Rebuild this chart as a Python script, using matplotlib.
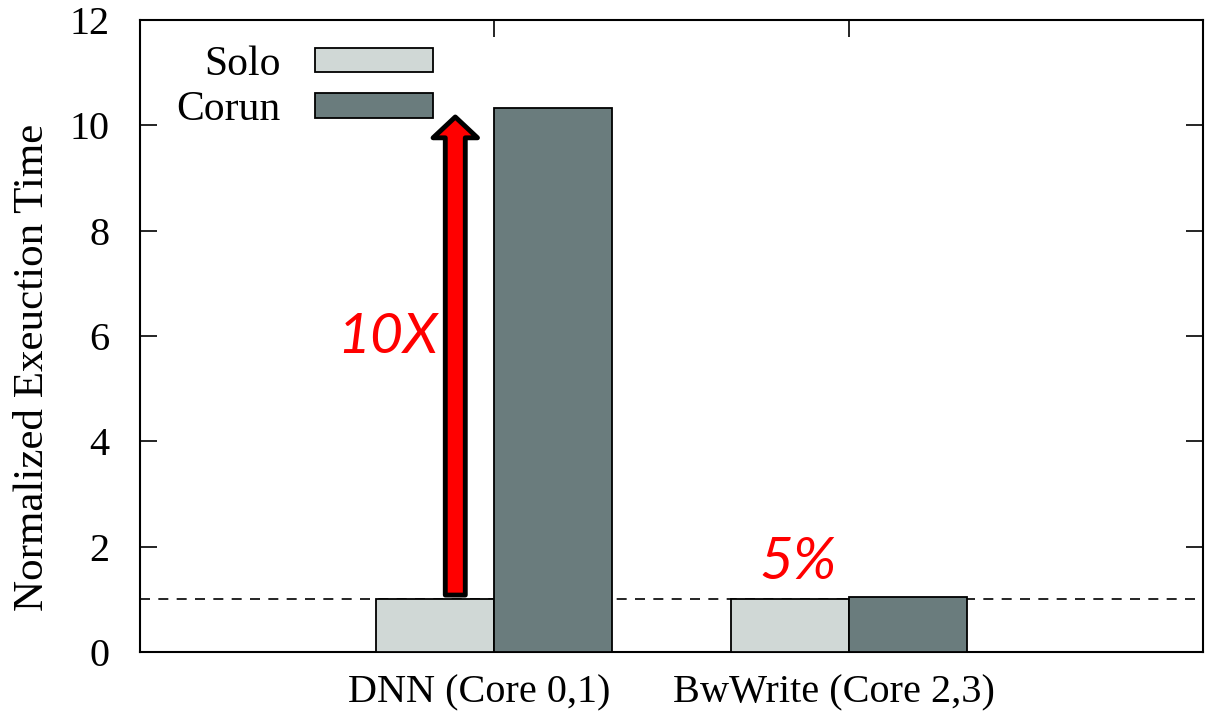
import numpy as np
import matplotlib
matplotlib.use('Agg')
from matplotlib import pyplot as plt
from matplotlib import transforms

categories = ['DNN (Core 0,1)', 'BwWrite (Core 2,3)']
solo = [1.0, 1.0]
corun = [10.33, 1.05]
yticks = [0, 2, 4, 6, 8, 10, 12]

plt.rcParams['font.family'] = ['Liberation Serif', 'DejaVu Serif']

fig = plt.figure(figsize=(12.06, 7.18), dpi=100)
ax = fig.add_axes([0.116, 0.092, 0.8815, 0.880])

x = np.arange(len(categories))
w = 1/3
ax.bar(x - w/2, solo, w, color='#d0d8d6', edgecolor='black', linewidth=1.3, label='Solo', zorder=3)
ax.bar(x + w/2, corun, w, color='#6a7c7d', edgecolor='black', linewidth=1.3, label='Corun', zorder=3)

ax.axhline(1.0, ls=(0, (6, 5)), color='black', lw=1.2, zorder=2)

ax.set_xlim(-1, 2)
ax.set_ylim(0, 12)
ax.set_yticks(yticks)
ax.set_xticks(x)
ax.set_xticklabels(categories)
ax.tick_params(axis='both', direction='in', length=12, width=1.2, top=True, right=True, labelsize=29)
ax.tick_params(axis='x', pad=16)
ax.tick_params(axis='y', pad=22)
# shift category labels slightly left like the original
for lbl in ax.get_xticklabels():
    lbl.set_transform(lbl.get_transform() + transforms.ScaledTranslation(-0.15, 0, fig.dpi_scale_trans))
for s in ax.spines.values():
    s.set_linewidth(1.5)

ax.set_ylabel('Normalized Exeuction Time', fontsize=31)
ax.yaxis.set_label_coords(-0.083, 0.451)

lgd = ax.legend(loc='upper left', bbox_to_anchor=(0.034, 0.960), frameon=False, markerfirst=False,
                fontsize=30, handlelength=2.83, handleheight=0.53, handletextpad=0.84,
                labelspacing=0.17, borderpad=0, borderaxespad=0)

# 10X arrow
ax.annotate('', xy=(-0.11, 10.16), xytext=(-0.11, 1.08),
            arrowprops=dict(arrowstyle='simple,head_width=1.6,head_length=0.75,tail_width=0.72',
                            mutation_scale=20, fc='red', ec='black', lw=3.5,
                            shrinkA=0, shrinkB=0), zorder=4)
ax.text(-0.30, 5.98, '10X', color='red', fontsize=41, style='italic', family='Lato',
        ha='center', va='center')
ax.text(0.856, 1.69, '5%', color='red', fontsize=42, style='italic', family='Lato',
        ha='center', va='center')

plt.savefig('out.png', dpi=100)
